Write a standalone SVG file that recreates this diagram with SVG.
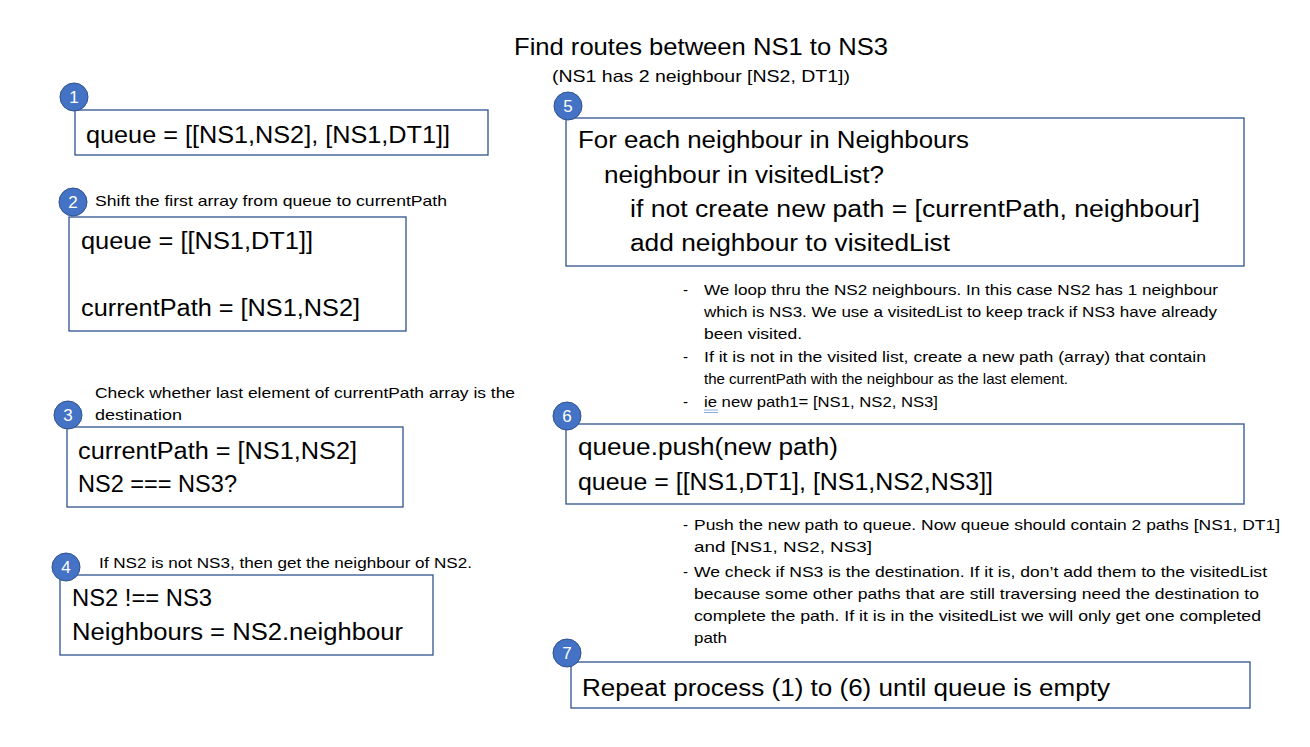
<svg xmlns="http://www.w3.org/2000/svg" width="1310" height="747" viewBox="0 0 1310 747">
<style>
.box{fill:#fff;stroke:#2F528F;stroke-width:1.3}
.badge{fill:#4472C4;stroke:#2F528F;stroke-width:1}
.num{font-family:"Liberation Sans",Arial,sans-serif;font-size:17px;fill:#fff;text-anchor:middle}
.t{font-family:"Liberation Sans",Arial,sans-serif;fill:#000}
.big{font-size:23px}
.lbl{font-size:14.5px}
.bul{font-size:15px}
</style>
<rect width="1310" height="747" fill="#fff"/>
<g id="title">
<text class="t" x="514" y="55" font-size="24" textLength="374" lengthAdjust="spacingAndGlyphs">Find routes between NS1 to NS3</text>
<text class="t" x="552" y="82" font-size="16.5" textLength="298" lengthAdjust="spacingAndGlyphs">(NS1 has 2 neighbour [NS2, DT1])</text>
</g>
<g id="connectors"></g>
<g id="node1">
<rect class="box" x="75" y="110" width="413" height="45"/>
<text class="t big" x="86" y="143" textLength="364" lengthAdjust="spacingAndGlyphs">queue = [[NS1,NS2], [NS1,DT1]]</text>
<circle class="badge" cx="74" cy="97" r="14"/><text class="num" x="74" y="103">1</text>
</g>
<g id="node2">
<rect class="box" x="69" y="217" width="337" height="114"/>
<text class="t lbl" x="95" y="206" textLength="352" lengthAdjust="spacingAndGlyphs">Shift the first array from queue to currentPath</text>
<text class="t big" x="81" y="249" textLength="232" lengthAdjust="spacingAndGlyphs">queue = [[NS1,DT1]]</text>
<text class="t big" x="81" y="316" textLength="279" lengthAdjust="spacingAndGlyphs">currentPath = [NS1,NS2]</text>
<circle class="badge" cx="73" cy="202" r="14"/><text class="num" x="73" y="208">2</text>
</g>
<g id="node3">
<rect class="box" x="67" y="427" width="336" height="80"/>
<text class="t lbl" x="95" y="398" textLength="420" lengthAdjust="spacingAndGlyphs">Check whether last element of currentPath array is the</text>
<text class="t lbl" x="95" y="420" textLength="87" lengthAdjust="spacingAndGlyphs">destination</text>
<text class="t big" x="78" y="459" textLength="279" lengthAdjust="spacingAndGlyphs">currentPath = [NS1,NS2]</text>
<text class="t big" x="78" y="492" textLength="159" lengthAdjust="spacingAndGlyphs">NS2 === NS3?</text>
<circle class="badge" cx="68" cy="415" r="14"/><text class="num" x="68" y="421">3</text>
</g>
<g id="node4">
<rect class="box" x="60" y="575" width="373" height="80"/>
<text class="t lbl" x="99" y="568" textLength="373" lengthAdjust="spacingAndGlyphs">If NS2 is not NS3, then get the neighbour of NS2.</text>
<text class="t big" x="72" y="606" textLength="140" lengthAdjust="spacingAndGlyphs">NS2 !== NS3</text>
<text class="t big" x="72" y="640" textLength="331" lengthAdjust="spacingAndGlyphs">Neighbours = NS2.neighbour</text>
<circle class="badge" cx="66" cy="567" r="14"/><text class="num" x="66" y="573">4</text>
</g>
<g id="node5">
<rect class="box" x="566" y="118" width="678" height="148"/>
<text class="t big" x="578" y="148" textLength="391" lengthAdjust="spacingAndGlyphs">For each neighbour in Neighbours</text>
<text class="t big" x="604" y="183" textLength="280" lengthAdjust="spacingAndGlyphs">neighbour in visitedList?</text>
<text class="t big" x="630" y="217" textLength="570" lengthAdjust="spacingAndGlyphs">if not create new path = [currentPath, neighbour]</text>
<text class="t big" x="630" y="251" textLength="320" lengthAdjust="spacingAndGlyphs">add neighbour to visitedList</text>
<circle class="badge" cx="568" cy="106" r="14"/><text class="num" x="568" y="112">5</text>
</g>
<g id="notes5">
<text class="t bul" x="683" y="295">-</text>
<text class="t bul" x="704" y="295" textLength="514" lengthAdjust="spacingAndGlyphs">We loop thru the NS2 neighbours. In this case NS2 has 1 neighbour</text>
<text class="t bul" x="704" y="317" textLength="513" lengthAdjust="spacingAndGlyphs">which is NS3. We use a visitedList to keep track if NS3 have already</text>
<text class="t bul" x="704" y="339" textLength="98" lengthAdjust="spacingAndGlyphs">been visited.</text>
<text class="t bul" x="683" y="362">-</text>
<text class="t bul" x="704" y="362" textLength="502" lengthAdjust="spacingAndGlyphs">If it is not in the visited list, create a new path (array) that contain</text>
<text class="t bul" x="704" y="384" textLength="364" lengthAdjust="spacingAndGlyphs">the currentPath with the neighbour as the last element.</text>
<text class="t bul" x="683" y="407">-</text>
<text class="t bul" x="704" y="407" textLength="234" lengthAdjust="spacingAndGlyphs">ie new path1= [NS1, NS2, NS3]</text>
<line x1="704" y1="410" x2="718" y2="410" stroke="#8FAADC" stroke-width="1"/>
<line x1="704" y1="412.5" x2="718" y2="412.5" stroke="#8FAADC" stroke-width="1"/>
</g>
<g id="node6">
<rect class="box" x="566" y="424" width="678" height="80"/>
<text class="t big" x="578" y="455" textLength="260" lengthAdjust="spacingAndGlyphs">queue.push(new path)</text>
<text class="t big" x="578" y="490" textLength="415" lengthAdjust="spacingAndGlyphs">queue = [[NS1,DT1], [NS1,NS2,NS3]]</text>
<circle class="badge" cx="567" cy="416" r="14"/><text class="num" x="567" y="422">6</text>
</g>
<g id="notes6">
<text class="t bul" x="683" y="530">-</text>
<text class="t bul" x="694" y="530" textLength="586" lengthAdjust="spacingAndGlyphs">Push the new path to queue. Now queue should contain 2 paths [NS1, DT1]</text>
<text class="t bul" x="694" y="552" textLength="178" lengthAdjust="spacingAndGlyphs">and [NS1, NS2, NS3]</text>
<text class="t bul" x="683" y="577">-</text>
<text class="t bul" x="694" y="577" textLength="573" lengthAdjust="spacingAndGlyphs">We check if NS3 is the destination. If it is, don’t add them to the visitedList</text>
<text class="t bul" x="694" y="599" textLength="565" lengthAdjust="spacingAndGlyphs">because some other paths that are still traversing need the destination to</text>
<text class="t bul" x="694" y="621" textLength="567" lengthAdjust="spacingAndGlyphs">complete the path. If it is in the visitedList we will only get one completed</text>
<text class="t bul" x="694" y="643" textLength="33" lengthAdjust="spacingAndGlyphs">path</text>
</g>
<g id="node7">
<rect class="box" x="571" y="662" width="679" height="46"/>
<text class="t big" x="582" y="696" textLength="528" lengthAdjust="spacingAndGlyphs">Repeat process (1) to (6) until queue is empty</text>
<circle class="badge" cx="567" cy="653" r="14"/><text class="num" x="567" y="659">7</text>
</g>
</svg>
